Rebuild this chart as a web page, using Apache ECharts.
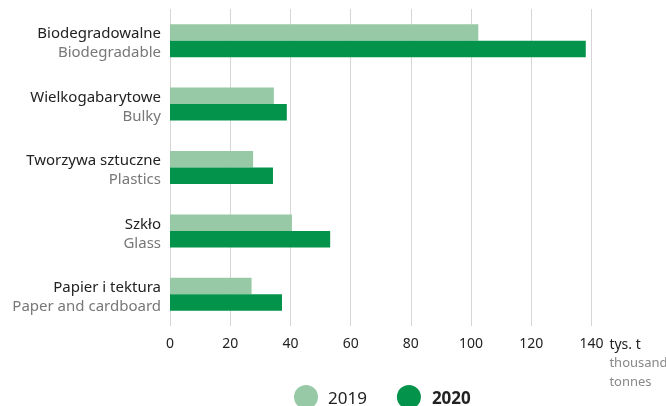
<!DOCTYPE html>
<html>
<head>
<meta charset="utf-8">
<script src="https://cdn.jsdelivr.net/npm/echarts@6/dist/echarts.min.js"></script>
<style>
  html, body { margin: 0; padding: 0; background: #fff; }
  #chart { width: 666px; height: 406px; }
</style>
</head>
<body>
<div id="chart"></div>
<script>
// kategorie (PL / EN)
const categoriesPl = ['Biodegradowalne', 'Wielkogabarytowe', 'Tworzywa sztuczne', 'Szkło', 'Papier i tektura'];
const categoriesEn = ['Biodegradable', 'Bulky', 'Plastics', 'Glass', 'Paper and cardboard'];
// tys. t
const values2019 = [102.4, 34.5, 27.6, 40.5, 27.1];
const values2020 = [138.1, 38.8, 34.2, 53.2, 37.2];
const seriesNames = ['2019', '2020'];

const FONT = '"Noto Sans", sans-serif';

const chart = echarts.init(document.getElementById('chart'));

const option = {
    animation: false,
    textStyle: { fontFamily: FONT },
    grid: { left: 170, right: 74.5, top: 9, bottom: 80, containLabel: false, outerBoundsMode: 'none' },
    legend: {
        left: 289,
        top: 380,
        itemWidth: 24,
        itemHeight: 24,
        itemGap: 30,
        icon: 'circle',
        data: seriesNames,
        formatter: name => (name === '2020' ? '{b|' + name + '}' : '{a|' + name + '}'),
        textStyle: {
            rich: {
                a: { fontSize: 17, color: '#222', padding: [4, 0, 0, 5], fontFamily: FONT },
                b: { fontSize: 17, color: '#222', fontWeight: 'bold', padding: [4, 0, 0, 6], fontFamily: FONT }
            }
        }
    },
    xAxis: {
        type: 'value',
        min: 0,
        max: 140,
        interval: 20,
        axisLine: { show: false },
        axisTick: { show: false },
        splitLine: { lineStyle: { color: '#d6d6d6', width: 1 } },
        axisLabel: { margin: 11, fontSize: 14, color: '#222', fontFamily: FONT },
        name: '{u|tys. t}\n{e|thousand}\n{e|tonnes}',
        nameLocation: 'end',
        nameGap: 15,
        nameTextStyle: {
            align: 'left',
            verticalAlign: 'top',
            padding: [10, 0, 0, 0],
            rich: {
                u: { fontSize: 14, color: '#222', lineHeight: 18, fontFamily: FONT },
                e: { fontSize: 13, color: '#888', lineHeight: 19, fontFamily: FONT }
            }
        }
    },
    yAxis: {
        type: 'category',
        inverse: true,
        data: categoriesPl,
        axisLine: { show: false },
        axisTick: { show: false },
        axisLabel: {
            margin: 9,
            formatter: (val, idx) => '{pl|' + val + '}\n{en|' + categoriesEn[idx] + '}',
            rich: {
                pl: { fontSize: 15, color: '#222', lineHeight: 19, align: 'right', padding: [6, 0, 0, 0], fontFamily: FONT },
                en: { fontSize: 15, color: '#777', lineHeight: 19, align: 'right', padding: [6, 0, 0, 0], fontFamily: FONT }
            }
        }
    },
    series: [
        {
            name: '2019',
            type: 'bar',
            data: values2019,
            barWidth: 16.5,
            barGap: '0%',
            itemStyle: { color: '#98c9a6' }
        },
        {
            name: '2020',
            type: 'bar',
            data: values2020,
            barWidth: 16.5,
            barGap: '0%',
            itemStyle: { color: '#03934a' }
        }
    ]
};

chart.setOption(option);
</script>
</body>
</html>
